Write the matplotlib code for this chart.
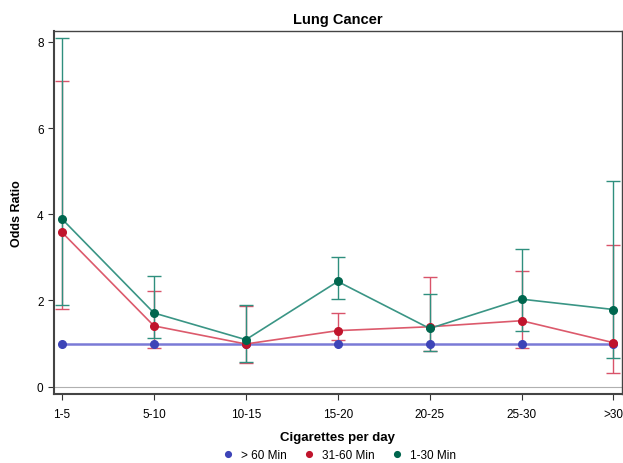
import matplotlib
matplotlib.use('Agg')
import matplotlib.pyplot as plt
import numpy as np

plt.rcParams['font.family'] = ['Liberation Sans', 'DejaVu Sans']

# categorias do eixo x
cigarros = ['1-5', '5-10', '10-15', '15-20', '20-25', '25-30', '>30']

# > 60 Min (referencia)
or_60 = [1.0, 1.0, 1.0, 1.0, 1.0, 1.0, 1.0]

# 31-60 Min
or_3160 = [3.58, 1.41, 0.99, 1.30, 1.39, 1.53, 1.02]
inf_3160 = [1.80, 0.90, 0.56, 1.08, 0.82, 0.89, 0.32]
sup_3160 = [7.09, 2.22, 1.87, 1.71, 2.55, 2.68, 3.29]

# 1-30 Min
or_130 = [3.89, 1.71, 1.09, 2.44, 1.35, 2.03, 1.79]
inf_130 = [1.90, 1.14, 0.58, 2.03, 0.82, 1.30, 0.67]
sup_130 = [8.08, 2.57, 1.89, 3.01, 2.16, 3.19, 4.78]

x = np.arange(len(cigarros))

fig = plt.figure(figsize=(6.23, 4.64), dpi=100)
ax = fig.add_axes([0.0867, 0.1487, 0.9113, 0.7823])

# linha de referencia em zero
ax.axhline(0, color='#b0b0b0', lw=0.8, zorder=1)

# > 60 Min
ax.plot(x, or_60, color='#7a7ad6', lw=1.8, zorder=2)
ax.plot(x, or_60, 'o', color='#3d44b8', ms=5.5, zorder=5, label='> 60 Min')

# 31-60 Min
ax.errorbar(x, or_3160,
            yerr=[np.array(or_3160) - np.array(inf_3160), np.array(sup_3160) - np.array(or_3160)],
            fmt='none', ecolor='#d9536a', elinewidth=1.0, capsize=5, capthick=1.0, zorder=3)
ax.plot(x, or_3160, color='#dc5a6c', lw=1.2, zorder=3)
ax.plot(x, or_3160, 'o', color='#c0142c', ms=5.5, zorder=6, label='31-60 Min')

# 1-30 Min
ax.errorbar(x, or_130,
            yerr=[np.array(or_130) - np.array(inf_130), np.array(sup_130) - np.array(or_130)],
            fmt='none', ecolor='#2f8f7e', elinewidth=1.0, capsize=5, capthick=1.0, zorder=4)
ax.plot(x, or_130, color='#3a9585', lw=1.2, zorder=4)
ax.plot(x, or_130, 'o', color='#00664e', ms=5.5, zorder=7, label='1-30 Min')

ax.set_xlim(-0.087, 6.09)
ax.set_ylim(-0.17, 8.25)
ax.set_xticks(x)
ax.set_xticklabels(cigarros)
ax.set_yticks([0, 2, 4, 6, 8])
ax.tick_params(labelsize=8.5, length=4, color='#333333')
ax.tick_params(axis='x', pad=6)

for s in ax.spines.values():
    s.set_color('#444444')
    s.set_linewidth(1.0)
ax.spines['left'].set_linewidth(1.5)
ax.spines['bottom'].set_linewidth(1.5)

ax.set_title('Lung Cancer', fontsize=10.5, fontweight='bold', pad=6)
ax.set_xlabel('Cigarettes per day', fontsize=9.5, fontweight='bold', labelpad=8)
ax.set_ylabel('Odds Ratio', fontsize=9, fontweight='bold', labelpad=10)

fig.legend(loc='lower center', bbox_to_anchor=(0.54, -0.018), ncol=3, frameon=False,
           fontsize=8.5, handletextpad=0.1, columnspacing=0.9, markerscale=0.75)

fig.savefig('out.png', dpi=100)
